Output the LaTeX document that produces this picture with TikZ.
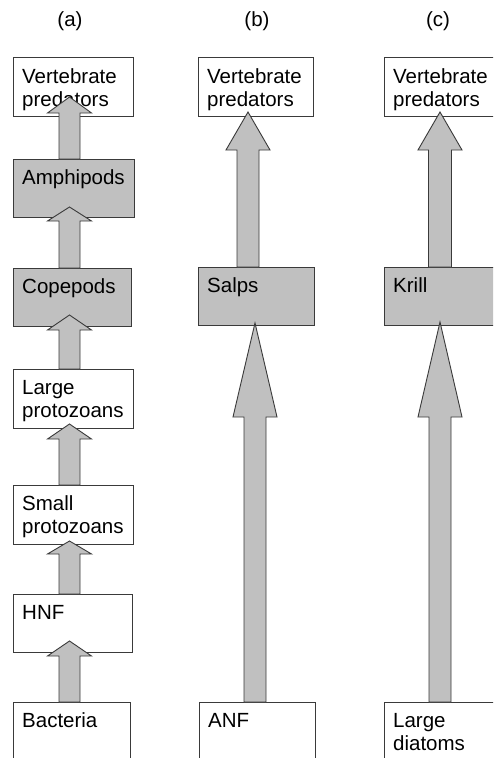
\documentclass[tikz,border=0pt]{standalone}
\usepackage{fontspec}
\setmainfont{Liberation Sans}
\definecolor{boxgray}{HTML}{C0C0C0}
\definecolor{linec}{HTML}{3A3A3A}
\tikzset{
  box/.style={draw=linec, line width=0.9pt, anchor=north west, inner sep=0pt, fill=white},
  graybox/.style={box, fill=boxgray},
  lbl/.style={anchor=base west, inner sep=0pt, font=\fontsize{20.5}{23}\selectfont, align=left},
  head/.style={anchor=base, inner sep=0pt, font=\fontsize{20.5}{23}\selectfont},
  fatarrow/.style={draw=linec, fill=boxgray, line width=0.9pt, line join=miter}
}
% #1 centre x, #2 bottom y, #3 tip y, #4 head base y, #5 shaft half width, #6 head half width
\newcommand\fatarr[6]{\draw[fatarrow] ({#1-#5},#2) -- ({#1-#5},#4) -- ({#1-#6},#4) -- (#1,#3) -- ({#1+#6},#4) -- ({#1+#5},#4) -- ({#1+#5},#2) -- cycle;}
\begin{document}
\begin{tikzpicture}[x=1pt,y=-1pt]
\clip (0,0) rectangle (493,758);
\fill[white] (0,0) rectangle (493,758);
% column labels
\node[head] (la) at (70,26) {(a)};
\node[head] (lb) at (257,26) {(b)};
\node[head] (lc) at (438,26) {(c)};
% column (a)
\node[box, minimum width=120pt, minimum height=59pt] (avp) at (13,57) {};
\node[graybox, minimum width=121pt, minimum height=58pt] (aam) at (13,159) {};
\node[graybox, minimum width=118pt, minimum height=58pt] (aco) at (13,268) {};
\node[box, minimum width=120pt, minimum height=59pt] (alp) at (13,369) {};
\node[box, minimum width=120pt, minimum height=59pt] (asp) at (13,485) {};
\node[box, minimum width=119pt, minimum height=58pt] (ahn) at (13,594) {};
\node[box, minimum width=117pt, minimum height=80pt] (aba) at (13,702) {};
% two-line labels: base anchor is the baseline of the last line
\node[lbl] (avpt) at (22,106) {Vertebrate\\predators};
\node[lbl] (aamt) at (22,184) {Amphipods};
\node[lbl] (acot) at (22,293) {Copepods};
\node[lbl] (alpt) at (22,417) {Large\\protozoans};
\node[lbl] (aspt) at (22,533) {Small\\protozoans};
\node[lbl] (ahnt) at (22,619) {HNF};
\node[lbl] (abat) at (22,727) {Bacteria};
% column (b)
\node[box, minimum width=115pt, minimum height=59pt] (bvp) at (198,57) {};
\node[graybox, minimum width=116pt, minimum height=58pt] (bsa) at (198,267) {};
\node[box, minimum width=116pt, minimum height=80pt] (ban) at (199,702) {};
\node[lbl] (bvpt) at (207,106) {Vertebrate\\predators};
\node[lbl] (bsat) at (207,292) {Salps};
\node[lbl] (bant) at (208,727) {ANF};
% column (c)
\node[box, minimum width=150pt, minimum height=59pt] (cvp) at (384,57) {};
\node[graybox, minimum width=150pt, minimum height=58pt] (ckr) at (384,267) {};
\node[box, minimum width=150pt, minimum height=80pt] (cld) at (384,702) {};
\node[lbl] (cvpt) at (393,106) {Vertebrate\\predators};
\node[lbl] (ckrt) at (393,292) {Krill};
\node[lbl] (cldt) at (393,750) {Large\\diatoms};
% arrows (a)
\fatarr{69.5}{159}{97}{113}{10.5}{22}
\fatarr{69.5}{268}{207}{221}{10.5}{22}
\fatarr{69.5}{369}{315}{330}{10.5}{22}
\fatarr{69.5}{485}{424}{439}{10.5}{22}
\fatarr{69.5}{594}{541}{554}{10.5}{22}
\fatarr{69.5}{702}{641}{656}{10.5}{22}
% arrows (b)
\fatarr{248}{267}{112}{150}{11}{22}
\fatarr{255}{702}{323}{417}{11}{22}
% arrows (c)
\fatarr{440}{267}{112}{150}{11.5}{22}
\fatarr{440}{702}{322}{417}{11}{22}
\end{tikzpicture}
\end{document}
